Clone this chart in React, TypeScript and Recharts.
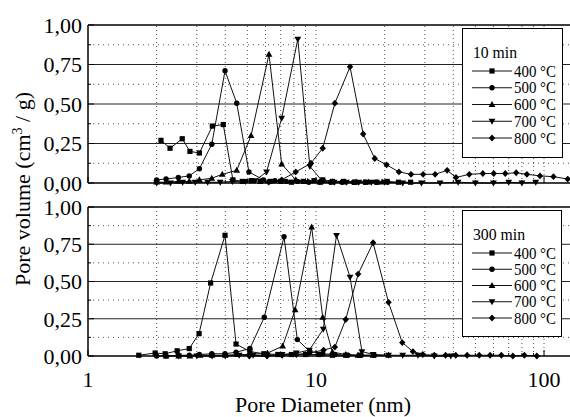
import React from 'react';
import { LineChart, Line, XAxis, YAxis, ReferenceLine } from 'recharts';

const FONT = "'Liberation Serif', 'Times New Roman', 'DejaVu Serif', serif";

const TEMPS = ['400 °C', '500 °C', '600 °C', '700 °C', '800 °C'];
const MARKERS = ['square', 'circle', 'up', 'down', 'diamond'];
const X_TICKS = [1, 2, 3, 4, 5, 6, 7, 8, 9, 10, 20, 30, 40, 50, 60, 70, 80, 90, 100];
const X_LABELS = [1, 10, 100];
const Y_TICKS = [0, 0.125, 0.25, 0.375, 0.5, 0.625, 0.75, 0.875, 1];
const Y_MAJOR_GRID = [0.25, 0.5, 0.75];
const Y_MINOR_GRID = [0.125, 0.375, 0.625, 0.875];
const X_GRID = [2, 3, 4, 5, 6, 7, 8, 9, 10, 20, 30, 40, 50, 60, 70, 80, 90, 100];

// 10 min panel: [pore diameter nm, pore volume]
const T400: [number, number][] = [[2.09,0.27],[2.29,0.22],[2.59,0.28],[2.8,0.2],[3.08,0.19],[3.51,0.36],[3.92,0.37],[4.32,0.02],[4.75,0.01],[5.2,0.015],[5.7,0.01],[6.3,0.01],[7.0,0.01],[7.8,0.005],[8.8,0.01],[9.8,0.015],[10.7,0.02],[11.8,0.01],[13.2,0.01],[14.8,0.005],[16.5,0.005],[18.5,0.005],[20.5,0.01],[23,0.005],[26,0.005]];
const T500: [number, number][] = [[2.0,0.02],[2.2,0.025],[2.49,0.035],[2.78,0.045],[3.08,0.09],[3.49,0.245],[3.99,0.71],[4.49,0.505],[5.08,0.07],[5.88,0.02],[6.6,0.015],[7.4,0.01],[8.3,0.01],[9.3,0.005],[10.4,0.005],[11.6,0.005],[13,0.005],[14.6,0.005],[16.4,0.005],[18.4,0.005],[20.6,0.005]];
const T600: [number, number][] = [[2.0,0.005],[2.2,0.005],[2.49,0.01],[2.78,0.01],[3.08,0.02],[3.49,0.03],[3.88,0.055],[4.49,0.08],[5.19,0.3],[6.22,0.815],[7.07,0.12],[8.15,0.02],[9.2,0.01],[10.4,0.005],[11.8,0.005],[13.3,0.005],[15,0.005],[17,0.005],[19.5,0.005]];
const T700: [number, number][] = [[2.0,0.0],[2.3,0.0],[2.6,0.005],[2.95,0.005],[3.35,0.005],[3.8,0.005],[4.3,0.01],[4.9,0.01],[5.4,0.015],[6.07,0.07],[7.07,0.41],[8.32,0.91],[9.4,0.105],[10.7,0.01],[12,0.005],[13.6,0.005],[15.4,0.005],[17.5,0.005],[20,0.005],[24,0.0],[29,0.0],[35,0.0],[42,0.005],[50,0.0],[60,0.0],[70,0.005],[80,0.0],[92,0.005]];
const T800: [number, number][] = [[6.2,0.005],[7.07,0.02],[8.15,0.07],[9.5,0.125],[10.7,0.22],[12.1,0.505],[14.1,0.735],[16.1,0.31],[18.1,0.155],[20.4,0.115],[23.1,0.07],[26.1,0.055],[29.5,0.055],[33.3,0.055],[37.6,0.08],[41.1,0.035],[47,0.055],[53.9,0.06],[60.2,0.06],[67.6,0.06],[75.5,0.065],[84.1,0.055],[96,0.045],[110,0.04],[127,0.025]];

// 300 min panel
const B400: [number, number][] = [[1.67,0.005],[1.97,0.02],[2.18,0.015],[2.46,0.035],[2.78,0.05],[3.07,0.15],[3.45,0.49],[3.99,0.81],[4.46,0.08],[5.13,0.03],[5.9,0.015],[6.8,0.01],[7.8,0.01],[9.0,0.01],[10.3,0.01],[11.8,0.005],[13.5,0.005],[15.5,0.005]];
const B500: [number, number][] = [[2.0,0.0],[2.2,0.0],[2.49,0.005],[2.78,0.005],[3.08,0.01],[3.49,0.015],[3.99,0.015],[4.46,0.025],[5.13,0.05],[5.93,0.26],[7.24,0.8],[8.28,0.11],[9.4,0.03],[10.7,0.015],[12.1,0.01],[13.8,0.005],[15.8,0.005],[18,0.005]];
const B600: [number, number][] = [[2.2,0.0],[2.5,0.0],[2.8,0.0],[3.1,0.005],[3.5,0.005],[4.0,0.005],[4.5,0.01],[5.13,0.01],[6.13,0.02],[7.14,0.066],[8.1,0.31],[9.57,0.865],[10.7,0.26],[11.8,0.026],[13.5,0.01],[15.3,0.005],[17.8,0.005],[20.8,0.005]];
const B700: [number, number][] = [[2.5,0.0],[3.0,0.0],[3.5,0.0],[4.0,0.0],[4.6,0.005],[5.3,0.005],[6.1,0.005],[7.1,0.01],[8.2,0.02],[9.35,0.04],[10.76,0.18],[12.3,0.81],[14.1,0.53],[15.9,0.03],[17.8,0.01],[20.8,0.005],[24,0.005],[28,0.005],[33,0.0],[39,0.0]];
const B800: [number, number][] = [[5.1,0.0],[6.1,0.0],[7.1,0.005],[8.2,0.01],[9.35,0.02],[10.8,0.04],[12.1,0.06],[13.5,0.245],[15.3,0.55],[17.8,0.76],[20.8,0.36],[23.9,0.09],[26.6,0.03],[29.4,0.01],[33,0.005],[37,0.005],[41,0.005],[46,0.005],[52,0.005],[58,0.005],[65,0.005],[73,0.0],[82,0.005],[93,0.0]];

const TOP_SERIES = [T400, T500, T600, T700, T800];
const BOTTOM_SERIES = [B400, B500, B600, B700, B800];

const toRows = (s: [number, number][]) => s.map(([d, v]) => ({ d, v }));

const TXT = { fontFamily: FONT };

function Marker({ kind, cx, cy }: { kind: string; cx: number; cy: number }) {
  if (cx == null || cy == null || isNaN(cx) || isNaN(cy)) return null;
  switch (kind) {
    case 'square':
      return <rect x={cx - 2.6} y={cy - 2.6} width={5.2} height={5.2} fill="#000" />;
    case 'circle':
      return <circle cx={cx} cy={cy} r={2.7} fill="#000" />;
    case 'up':
      return <path d={`M${cx},${cy - 3.6}L${cx + 3.4},${cy + 2.4}L${cx - 3.4},${cy + 2.4}Z`} fill="#000" />;
    case 'down':
      return <path d={`M${cx},${cy + 3.6}L${cx + 3.4},${cy - 2.4}L${cx - 3.4},${cy - 2.4}Z`} fill="#000" />;
    default:
      return <path d={`M${cx},${cy - 3.4}L${cx + 3.2},${cy}L${cx},${cy + 3.4}L${cx - 3.2},${cy}Z`} fill="#000" />;
  }
}

function XTick(props: any) {
  const { x, y, payload, showLabels } = props;
  const v = payload.value;
  const major = X_LABELS.includes(v);
  return (
    <g>
      <line x1={x} x2={x} y1={y} y2={y - (major ? 6 : 3)} stroke="#000" strokeWidth={1} />
      {showLabels && major && (
        <text x={x} y={y + 31} textAnchor="middle" fontSize={22} style={TXT} fill="#000">
          {v}
        </text>
      )}
    </g>
  );
}

function YTick(props: any) {
  const { x, y, payload } = props;
  const v = payload.value;
  const major = Math.abs(v * 4 - Math.round(v * 4)) < 1e-6;
  return (
    <g>
      <line x1={x} x2={x + (major ? 6 : 3)} y1={y} y2={y} stroke="#000" strokeWidth={1} />
      {major && (
        <text x={x - 6} y={y} dy="0.36em" textAnchor="end" fontSize={22} style={TXT} fill="#000">
          {v.toFixed(2).replace('.', ',')}
        </text>
      )}
    </g>
  );
}

function Panel({ series, top, height, marginTop, xAxisHeight, showXLabels }: any) {
  return (
    <div style={{ position: 'absolute', left: 0, top }}>
      <LineChart width={575} height={height} margin={{ top: marginTop, right: 5, bottom: 0, left: 0 }}>
        <XAxis
          type="number"
          dataKey="d"
          scale="log"
          domain={[1, 130]}
          allowDataOverflow
          ticks={X_TICKS}
          interval={0}
          height={xAxisHeight}
          tickSize={0}
          tickMargin={0}
          tickLine={false}
          tick={<XTick showLabels={showXLabels} />}
          axisLine={{ stroke: '#000', strokeWidth: 1.5 }}
        />
        <YAxis
          type="number"
          domain={[0, 1]}
          ticks={Y_TICKS}
          interval={0}
          width={88}
          tickSize={0}
          tickMargin={0}
          tickLine={false}
          tick={<YTick />}
          axisLine={{ stroke: '#000', strokeWidth: 1.5 }}
        />
        {X_GRID.map((g) => (
          <ReferenceLine key={'x' + g} x={g} stroke="#555" strokeWidth={1} strokeDasharray="1 3" />
        ))}
        {Y_MINOR_GRID.map((g) => (
          <ReferenceLine key={'ym' + g} y={g} stroke="#555" strokeWidth={1} strokeDasharray="1 4" />
        ))}
        {Y_MAJOR_GRID.map((g) => (
          <ReferenceLine key={'yM' + g} y={g} stroke="#222" strokeWidth={1} />
        ))}
        <ReferenceLine y={1} stroke="#000" strokeWidth={1.5} />
        {series.map((s: [number, number][], i: number) => (
          <Line
            key={TEMPS[i]}
            name={TEMPS[i]}
            data={toRows(s)}
            dataKey="v"
            type="linear"
            stroke="#111"
            strokeWidth={1}
            isAnimationActive={false}
            activeDot={false}
            dot={(p: any) => <Marker key={'m' + i + '-' + p.index} kind={MARKERS[i]} cx={p.cx} cy={p.cy} />}
          />
        ))}
      </LineChart>
    </div>
  );
}

function LegendBox({ title, titleWidth, left, top, width, height, rowStart, rowStep }: any) {
  return (
    <div
      style={{
        position: 'absolute',
        left,
        top,
        width,
        height,
        border: '1px solid #000',
        background: '#fff',
        boxSizing: 'border-box',
      }}
    >
      <svg width={width - 2} height={height - 2} style={{ position: 'absolute', left: 0, top: 0 }}>
        <text
          x={10}
          y={23}
          dy="0.35em"
          fontSize={16}
          style={TXT}
          fill="#000"
          textLength={titleWidth}
          lengthAdjust="spacingAndGlyphs"
        >
          {title}
        </text>
        {TEMPS.map((t, i) => {
          const cy = rowStart + i * rowStep;
          return (
            <g key={t}>
              <line x1={9} x2={49} y1={cy} y2={cy} stroke="#111" strokeWidth={1} />
              <Marker kind={MARKERS[i]} cx={29} cy={cy} />
              <text
                x={51}
                y={cy}
                dy="0.35em"
                fontSize={16}
                style={TXT}
                fill="#000"
                textLength={42}
                lengthAdjust="spacingAndGlyphs"
              >
                {t}
              </text>
            </g>
          );
        })}
      </svg>
    </div>
  );
}

export default function App() {
  return (
    <div
      style={{
        position: 'absolute',
        left: 0,
        top: 0,
        width: 570,
        height: 417,
        overflow: 'hidden',
        background: '#fff',
        fontFamily: FONT,
      }}
    >
      <Panel series={TOP_SERIES} top={0} height={200} marginTop={25} xAxisHeight={17} showXLabels={false} />
      <Panel series={BOTTOM_SERIES} top={190} height={227} marginTop={17} xAxisHeight={61} showXLabels={true} />
      <LegendBox title="10 min" titleWidth={44} left={462} top={28} width={101} height={130} rowStart={42} rowStep={16.75} />
      <LegendBox title="300 min" titleWidth={52} left={462} top={210} width={100} height={127} rowStart={42} rowStep={16.25} />
      <svg width={570} height={417} style={{ position: 'absolute', left: 0, top: 0, pointerEvents: 'none' }}>
        <text
          x={30}
          y={189}
          transform="rotate(-90 30 189)"
          textAnchor="middle"
          fontSize={22}
          style={TXT}
          fill="#000"
        >
          Pore volume (cm
          <tspan fontSize={14} dy={-8}>3</tspan>
          <tspan dy={8}> / g)</tspan>
        </text>
        <text x={323} y={412} textAnchor="middle" fontSize={22} style={TXT} fill="#000">
          Pore Diameter (nm)
        </text>
      </svg>
    </div>
  );
}
